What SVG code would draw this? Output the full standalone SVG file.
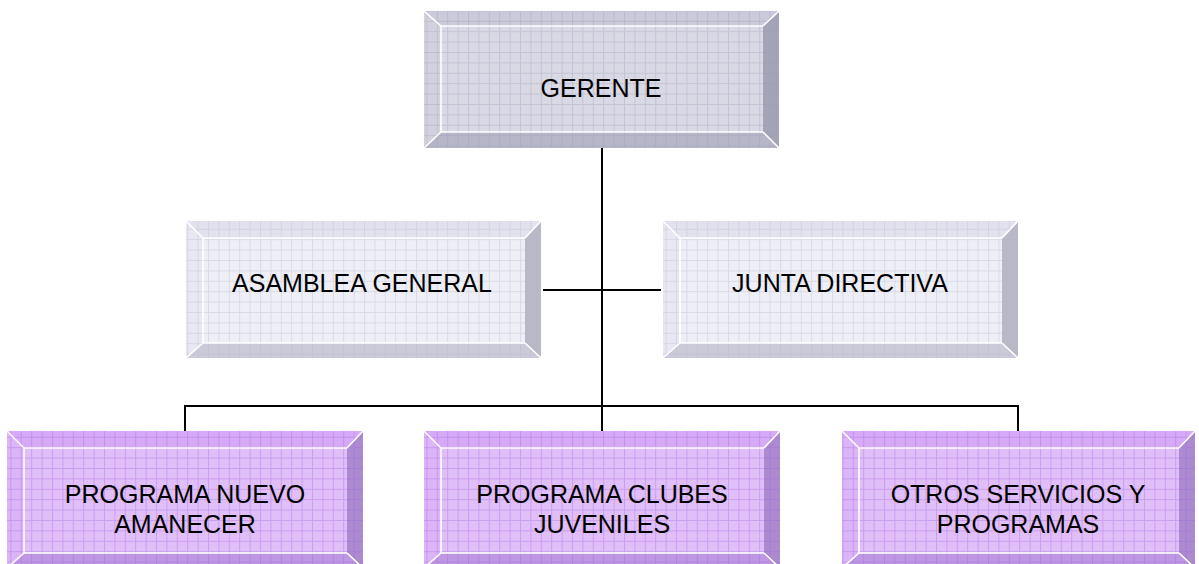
<svg xmlns="http://www.w3.org/2000/svg" width="1199" height="564" viewBox="0 0 1199 564">
<defs>
<pattern id="gGray" width="10.4" height="10.4" patternUnits="userSpaceOnUse"><path d="M0 0.5H10.4M0.5 0V10.4" stroke="#9a9ab4" stroke-opacity="0.35" stroke-width="1" fill="none"/></pattern>
<pattern id="gLight" width="10.4" height="10.4" patternUnits="userSpaceOnUse"><path d="M0 0.5H10.4M0.5 0V10.4" stroke="#b4b4cc" stroke-opacity="0.35" stroke-width="1" fill="none"/></pattern>
<pattern id="gPurple" width="10.4" height="10.4" patternUnits="userSpaceOnUse"><path d="M0 0.5H10.4M0.5 0V10.4" stroke="#a060e0" stroke-opacity="0.35" stroke-width="1" fill="none"/></pattern>
<style>
.t{font-family:"Liberation Sans",Arial,sans-serif;font-size:25px;fill:#000;text-anchor:middle}
.hl{stroke:#fff;stroke-width:1.6;fill:none}
.gray .in{fill:#d9d9e5}.gray .tp{fill:#cacada}.gray .lf{fill:#d2d2de}.gray .rt{fill:#a4a4b6}.gray .bt{fill:#b6b6c8}.gray .gr{fill:url(#gGray)}
.light .in{fill:#eeeef6}.light .tp{fill:#e2e2ee}.light .lf{fill:#e8e8f2}.light .rt{fill:#b8b8c6}.light .bt{fill:#cacad8}.light .gr{fill:url(#gLight)}
.purple .in{fill:#e0bef8}.purple .tp{fill:#d6aaf6}.purple .lf{fill:#dcb4f8}.purple .rt{fill:#ac8ad0}.purple .bt{fill:#be98e2}.purple .gr{fill:url(#gPurple)}
.conn{stroke:#000;stroke-width:2;fill:none}
</style>
</defs>
<rect width="1199" height="564" fill="#fff"/>
<g id="connectors">
<path class="conn" d="M602 148V406M543 290H661M185 431V406H1018V431M602 406V431"/>
</g>
<g id="gerente" class="gray">
<polygon class="tp" points="424,11 779,11 763,26 441,26"/>
<polygon class="lf" points="424,11 441,26 441,132 424,148"/>
<polygon class="rt" points="779,11 779,148 763,132 763,26"/>
<polygon class="bt" points="424,148 441,132 763,132 779,148"/>
<rect class="in" x="441" y="26" width="322" height="106"/>
<rect class="gr" x="424" y="11" width="355" height="137"/>
<path class="hl" d="M763 26H441V132H763M424 11L441 26M779 11L763 26M424 148L441 132M779 148L763 132"/>
<text class="t" x="601" y="97">GERENTE</text>
</g>
<g id="asamblea" class="light">
<polygon class="tp" points="186,221 541,221 525,238 203,238"/>
<polygon class="lf" points="186,221 203,238 203,343 186,358"/>
<polygon class="rt" points="541,221 541,358 525,343 525,238"/>
<polygon class="bt" points="186,358 203,343 525,343 541,358"/>
<rect class="in" x="203" y="238" width="322" height="105"/>
<rect class="gr" x="186" y="221" width="355" height="137"/>
<path class="hl" d="M525 238H203V343H525M186 221L203 238M541 221L525 238M186 358L203 343M541 358L525 343"/>
<text class="t" x="362" y="292">ASAMBLEA GENERAL</text>
</g>
<g id="junta" class="light">
<polygon class="tp" points="663,221 1018,221 1002,238 680,238"/>
<polygon class="lf" points="663,221 680,238 680,343 663,358"/>
<polygon class="rt" points="1018,221 1018,358 1002,343 1002,238"/>
<polygon class="bt" points="663,358 680,343 1002,343 1018,358"/>
<rect class="in" x="680" y="238" width="322" height="105"/>
<rect class="gr" x="663" y="221" width="355" height="137"/>
<path class="hl" d="M1002 238H680V343H1002M663 221L680 238M1018 221L1002 238M663 358L680 343M1018 358L1002 343"/>
<text class="t" x="840" y="292">JUNTA DIRECTIVA</text>
</g>
<g id="nuevo-amanecer" class="purple">
<polygon class="tp" points="7,431 363,431 347,448 24,448"/>
<polygon class="lf" points="7,431 24,448 24,553 7,568"/>
<polygon class="rt" points="363,431 363,568 347,553 347,448"/>
<polygon class="bt" points="7,568 24,553 347,553 363,568"/>
<rect class="in" x="24" y="448" width="323" height="105"/>
<rect class="gr" x="7" y="431" width="356" height="137"/>
<path class="hl" d="M347 448H24V553H347M7 431L24 448M363 431L347 448M7 568L24 553M363 568L347 553"/>
<text class="t" x="185" y="503">PROGRAMA NUEVO</text>
<text class="t" x="185" y="533">AMANECER</text>
</g>
<g id="clubes-juveniles" class="purple">
<polygon class="tp" points="424,431 780,431 764,448 441,448"/>
<polygon class="lf" points="424,431 441,448 441,553 424,568"/>
<polygon class="rt" points="780,431 780,568 764,553 764,448"/>
<polygon class="bt" points="424,568 441,553 764,553 780,568"/>
<rect class="in" x="441" y="448" width="323" height="105"/>
<rect class="gr" x="424" y="431" width="356" height="137"/>
<path class="hl" d="M764 448H441V553H764M424 431L441 448M780 431L764 448M424 568L441 553M780 568L764 553"/>
<text class="t" x="602" y="503">PROGRAMA CLUBES</text>
<text class="t" x="602" y="533">JUVENILES</text>
</g>
<g id="otros-servicios" class="purple">
<polygon class="tp" points="842,431 1195,431 1179,448 859,448"/>
<polygon class="lf" points="842,431 859,448 859,553 842,568"/>
<polygon class="rt" points="1195,431 1195,568 1179,553 1179,448"/>
<polygon class="bt" points="842,568 859,553 1179,553 1195,568"/>
<rect class="in" x="859" y="448" width="320" height="105"/>
<rect class="gr" x="842" y="431" width="353" height="137"/>
<path class="hl" d="M1179 448H859V553H1179M842 431L859 448M1195 431L1179 448M842 568L859 553M1195 568L1179 553"/>
<text class="t" x="1018" y="503">OTROS SERVICIOS Y</text>
<text class="t" x="1018" y="533">PROGRAMAS</text>
</g>
</svg>
